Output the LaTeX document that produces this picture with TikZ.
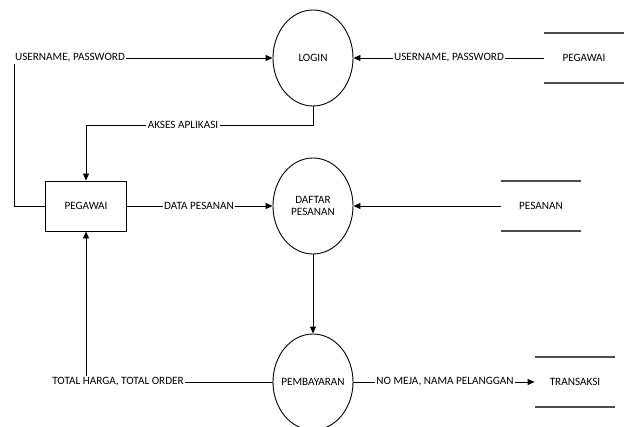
\documentclass[tikz,border=0pt]{standalone}
\usepackage{fontspec}
\setmainfont{Carlito}
\usetikzlibrary{shapes.geometric, positioning, arrows.meta}
\tikzset{
    >={Triangle[length=7pt, width=6pt]}, % mata panah segitiga penuh
    every node/.style={font=\fontsize{11.2}{12.5}\selectfont},
}

\begin{document}
\begin{tikzpicture}[
                                x=1pt, y=-1pt,
                                line width=0.9pt,
                                proses/.style={draw, ellipse, inner xsep=-12pt, minimum width=80pt, minimum height=96pt, align=center},
                                entitas/.style={draw, minimum width=81pt, minimum height=50pt},
                                simpan/.style={minimum width=80pt, minimum height=49pt},
                                aliran/.style={inner sep=1pt},
                            ]
                            \useasboundingbox (0,0) rectangle (628,427);
                            % proses
                            \node[proses] (login) at (313,58) {LOGIN};
                            \node[proses] (daftar) at (313,206) {DAFTAR\\PESANAN};
                            \node[proses] (bayar) at (313,382) {PEMBAYARAN};
                            % entitas
                            \node[entitas] (pegawai) at (86,206) {PEGAWAI};
                            % penyimpanan
                            \node[simpan] (dbpegawai) at (584,58) {PEGAWAI};
                            \node[simpan] (dbpesanan) at (541,206) {PESANAN};
                            \node[simpan] (dbtransaksi) at (575,382) {TRANSAKSI};
                            \foreach \s in {dbpegawai, dbpesanan, dbtransaksi} {
                                \draw[black!70, line width=1.2pt] (\s.north west) -- (\s.north east);
                                \draw[black!70, line width=1.2pt] (\s.south west) -- (\s.south east);
                            }
                            % label aliran data
                            \node[aliran] (user1) at (70,58) {USERNAME, PASSWORD};
                            \node[aliran] (user2) at (449,58) {USERNAME, PASSWORD};
                            \node[aliran] (akses) at (183,125) {AKSES APLIKASI};
                            \node[aliran] (data) at (199,206) {DATA PESANAN};
                            \node[aliran] (total) at (118,382) {TOTAL HARGA, TOTAL ORDER};
                            \node[aliran] (nomeja) at (445,382) {NO MEJA, NAMA PELANGGAN};
                            \draw
                            (pegawai.west) -| ([xshift=1pt]user1.south west)
                            (user1) edge[->] (login)
                            (dbpegawai) edge (user2)
                            (user2) edge[->] (login)
                            (pegawai) edge (data)
                            (data) edge[->] (daftar)
                            (dbpesanan) edge[->] (daftar)
                            (daftar) edge[->] (bayar)
                            (bayar) edge (total)
                            (bayar) edge (nomeja)
                            (nomeja) edge[->] (dbtransaksi);
                            \draw (login.south) |- (akses.east);
                            \draw[->] (akses.west) -| (pegawai.north);
                            \draw[->] (total.north -| pegawai.south) -- (pegawai.south);
                        \end{tikzpicture}
\end{document}
